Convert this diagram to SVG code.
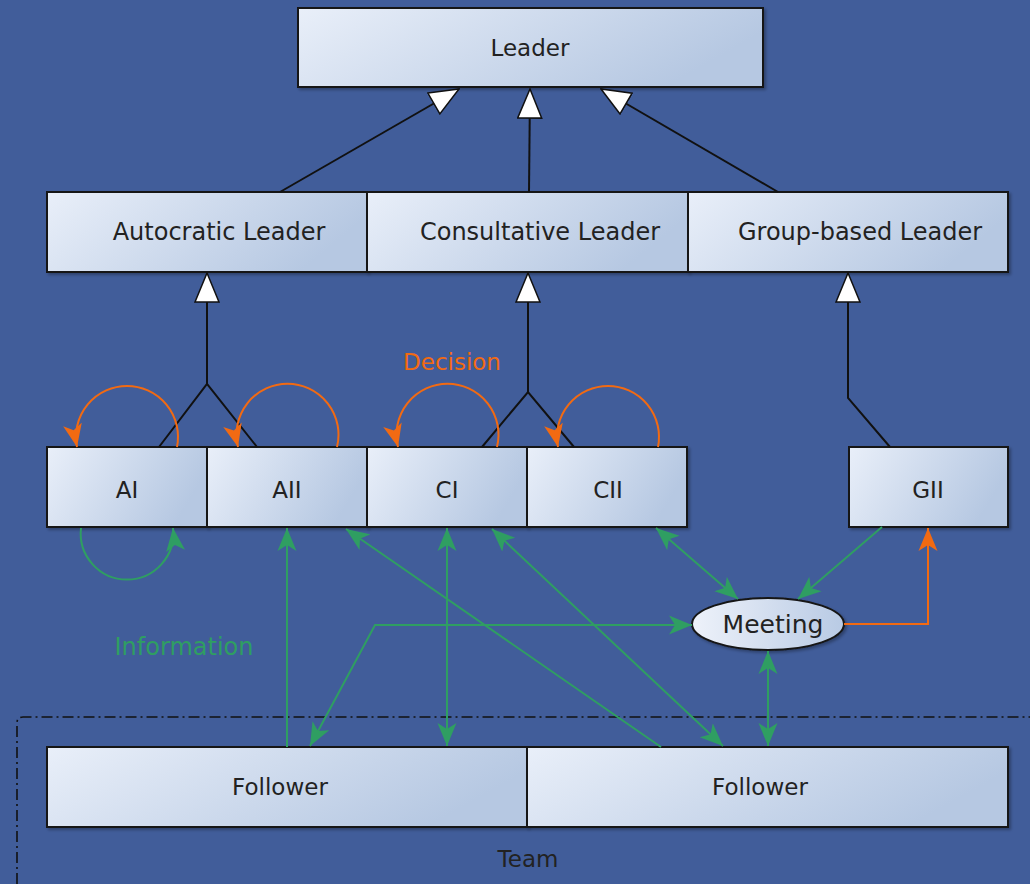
<svg xmlns="http://www.w3.org/2000/svg" width="1030" height="884" viewBox="0 0 1030 884">
<defs>
<linearGradient id="nodeFill" x1="0" y1="0" x2="1" y2="0.3">
<stop offset="0" stop-color="#e9eff9"/>
<stop offset="1" stop-color="#b6c8e2"/>
</linearGradient>
<linearGradient id="ellFill" x1="0" y1="0" x2="1" y2="0">
<stop offset="0" stop-color="#eef2fa"/>
<stop offset="1" stop-color="#b8cae4"/>
</linearGradient>
<filter id="shadow" x="-10%" y="-10%" width="130%" height="140%">
<feDropShadow dx="2" dy="2" stdDeviation="1.8" flood-color="#000" flood-opacity="0.3"/>
</filter>
<marker id="tri" viewBox="0 0 31 26" refX="30" refY="13" markerWidth="31" markerHeight="26" markerUnits="userSpaceOnUse" orient="auto">
<path d="M1,1 L30,13 L1,25 z" fill="#ffffff" stroke="#111111" stroke-width="1.5" stroke-linejoin="miter"/>
</marker>
<marker id="ga" viewBox="0 0 23 20" refX="23" refY="10" markerWidth="23" markerHeight="20" markerUnits="userSpaceOnUse" orient="auto-start-reverse">
<path d="M0,0.5 L23,10 L0,19.5 L6,10 z" fill="#2f9e62"/>
</marker>
<marker id="oa" viewBox="0 0 23 20" refX="23" refY="10" markerWidth="23" markerHeight="20" markerUnits="userSpaceOnUse" orient="auto">
<path d="M0,0.5 L23,10 L0,19.5 L6,10 z" fill="#f26a12"/>
</marker>
</defs>
<style>
.node rect, .node ellipse { fill: url(#nodeFill); stroke: #161616; stroke-width: 2; filter: url(#shadow); }
.node ellipse { fill: url(#ellFill); }
.label { font-family: "DejaVu Sans", "Liberation Sans", sans-serif; font-size: 23px; fill: #222222; text-anchor: middle; }
.big { font-size: 24px; }
.inh { fill: none; stroke: #111111; stroke-width: 2; }
.gr { fill: none; stroke: #2f9e62; stroke-width: 2; }
.or { fill: none; stroke: #f26a12; stroke-width: 2; }
.team { fill: none; stroke: #111111; stroke-width: 1.6; stroke-dasharray: 11 4 2 4; }
</style>
<rect x="0" y="0" width="1030" height="884" fill="#415d9a"/>

<g id="team">
<path class="team" d="M17,884 L17,723 Q17,717 23,717 L1030,717"/>
<text class="label" x="528" y="867">Team</text>
</g>

<g id="leader" class="node"><rect x="298" y="8" width="465" height="79"/><text class="label" x="530" y="56">Leader</text></g>
<g id="autocratic" class="node"><rect x="47" y="192" width="320" height="80"/><text class="label big" x="219" y="240">Autocratic Leader</text></g>
<g id="consultative" class="node"><rect x="367" y="192" width="321" height="80"/><text class="label big" x="540" y="240">Consultative Leader</text></g>
<g id="groupbased" class="node"><rect x="688" y="192" width="320" height="80"/><text class="label big" x="860" y="240">Group-based Leader</text></g>
<g id="ai" class="node"><rect x="47" y="447" width="160" height="80"/><text class="label" x="127" y="498">AI</text></g>
<g id="aii" class="node"><rect x="207" y="447" width="160" height="80"/><text class="label" x="287" y="498">AII</text></g>
<g id="ci" class="node"><rect x="367" y="447" width="160" height="80"/><text class="label" x="447" y="498">CI</text></g>
<g id="cii" class="node"><rect x="527" y="447" width="160" height="80"/><text class="label" x="608" y="498">CII</text></g>
<g id="gii" class="node"><rect x="849" y="447" width="159" height="80"/><text class="label" x="928" y="498">GII</text></g>
<g id="meeting" class="node"><ellipse cx="768" cy="624" rx="76" ry="26"/><text class="label" x="773" y="633" style="font-size:25px">Meeting</text></g>
<g id="follower1" class="node"><rect x="47" y="747" width="480" height="80"/><text class="label" x="280" y="795">Follower</text></g>
<g id="follower2" class="node"><rect x="527" y="747" width="481" height="80"/><text class="label" x="760" y="795">Follower</text></g>

<g id="connectors">
<path class="inh" d="M280,192 L459,89" marker-end="url(#tri)"/>
<path class="inh" d="M529,192 L530,89" marker-end="url(#tri)"/>
<path class="inh" d="M778,192 L601,89" marker-end="url(#tri)"/>
<path class="inh" d="M159,447 L207,384 L257,447"/>
<path class="inh" d="M207,384 L207,273" marker-end="url(#tri)"/>
<path class="inh" d="M482,447 L528,392 L574,447"/>
<path class="inh" d="M528,392 L528,273" marker-end="url(#tri)"/>
<path class="inh" d="M890,447 L848,398 L848,273" marker-end="url(#tri)"/>

<path class="or" d="M177,447 A51,51 0 1 0 77,447" marker-end="url(#oa)"/>
<path class="or" d="M337,447 A51,51 0 1 0 238,447" marker-end="url(#oa)"/>
<path class="or" d="M497,447 A51,51 0 1 0 398,447" marker-end="url(#oa)"/>
<path class="or" d="M658,447 A51,51 0 1 0 558,447" marker-end="url(#oa)"/>
<path class="or" d="M844,624 L928,624 L928,528" marker-end="url(#oa)"/>

<path class="gr" d="M81,528 A46.3,46.3 0 1 0 173,528" marker-end="url(#ga)"/>
<path class="gr" d="M287,747 L287,528" marker-end="url(#ga)"/>
<path class="gr" d="M661,747 L346,529" marker-end="url(#ga)"/>
<path class="gr" d="M447,528 L447,746" marker-start="url(#ga)" marker-end="url(#ga)"/>
<path class="gr" d="M492,529 L723,746" marker-start="url(#ga)" marker-end="url(#ga)"/>
<path class="gr" d="M310,746 L375,625 L692,625" marker-start="url(#ga)" marker-end="url(#ga)"/>
<path class="gr" d="M656,528 L738,599" marker-start="url(#ga)" marker-end="url(#ga)"/>
<path class="gr" d="M882,527 L798,599" marker-end="url(#ga)"/>
<path class="gr" d="M768,651 L768,746" marker-start="url(#ga)" marker-end="url(#ga)"/>
</g>

<text class="label" x="452" y="370" style="fill:#f26a12">Decision</text>
<text class="label big" x="184" y="655" style="fill:#2f9e62">Information</text>
</svg>
